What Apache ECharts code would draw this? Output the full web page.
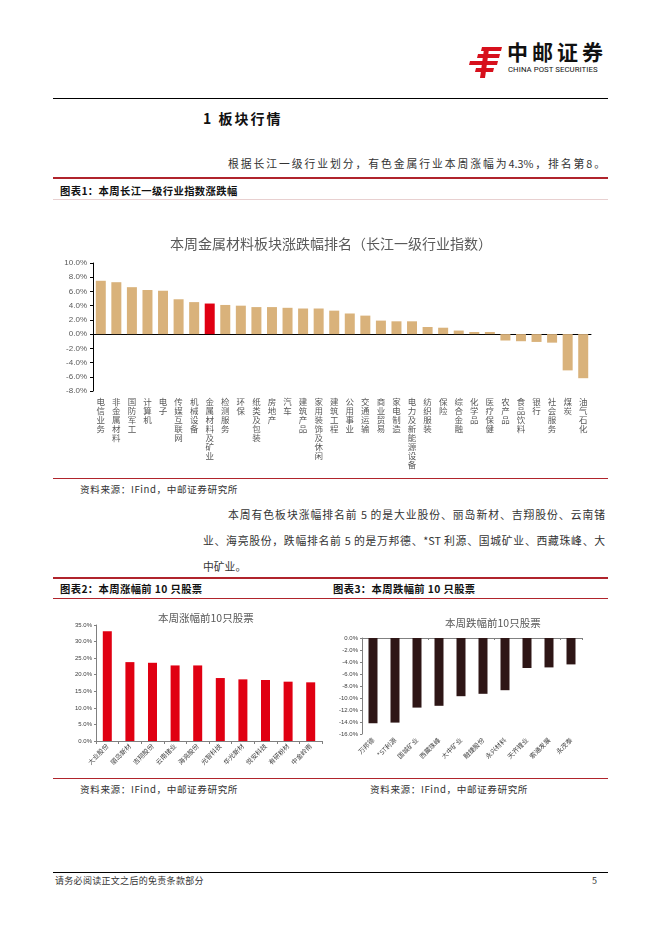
<!DOCTYPE html>
<html><head><meta charset="utf-8">
<script src="https://cdn.jsdelivr.net/npm/echarts@6/dist/echarts.min.js"></script>
<style>
html,body{margin:0;padding:0;background:#fff;}
body{width:662px;height:936px;position:relative;overflow:hidden;font-family:"Noto Sans CJK SC","Noto Sans",sans-serif;color:#222;}
.abs{position:absolute;}
.hl{position:absolute;left:53px;width:555px;}
.txt{position:absolute;font-size:10.8px;white-space:nowrap;text-align:justify;text-align-last:justify;color:#333;}
.cap{position:absolute;font-size:10.3px;font-weight:bold;color:#111;white-space:nowrap;letter-spacing:0.4px;}
.src{position:absolute;font-size:9.6px;color:#333;white-space:nowrap;letter-spacing:0.6px;}
</style></head>
<body>
<!-- header logo -->
<svg class="abs" style="left:468px;top:45px" width="36" height="34" viewBox="0 0 36 34">
  <g fill="#D7101C">
    <polygon points="14,2 34,2 33,6 13,6"/>
    <polygon points="10,9 32,9 31,13 9,13"/>
    <polygon points="2,16 30,16 29,20 1,20"/>
    <polygon points="8,23 26,23 25,27 7,27"/>
    <polygon points="16,4 21,4 17,33 12,33"/>
  </g>
</svg>
<div class="abs" style="left:507px;top:36px;font-size:21px;font-weight:bold;letter-spacing:4px;color:#111;line-height:30px;">中邮证券</div>
<div class="abs" style="left:508px;top:65px;font-size:7.8px;font-family:Roboto,Arial,sans-serif;color:#111;letter-spacing:0.05px;line-height:9px;">CHINA POST SECURITIES</div>
<div class="hl" style="top:98px;height:1px;background:#000;"></div>

<div class="abs" style="left:203px;top:108px;font-size:14px;font-weight:bold;letter-spacing:2px;color:#111;">1 板块行情</div>

<div class="txt" style="left:228px;top:155px;width:377px;">根据长江一级行业划分，有色金属行业本周涨幅为4.3%，排名第8。</div>

<div class="hl" style="top:177px;height:2px;background:#B0242C;"></div>
<div class="cap" style="left:60px;top:183px;">图表1：本周长江一级行业指数涨跌幅</div>
<div class="hl" style="top:199px;height:1px;background:#E8D0D0;"></div>

<div id="c1" class="abs" style="left:0;top:220px;width:662px;height:256px;"></div>

<div class="hl" style="top:478px;height:1px;background:#B0242C;"></div>
<div class="src" style="left:80px;top:482px;">资料来源：IFind，中邮证券研究所</div>

<div class="txt" style="left:228px;top:506px;width:377px;">本周有色板块涨幅排名前 5 的是大业股份、丽岛新材、吉翔股份、云南锗</div>
<div class="txt" style="left:203px;top:532px;width:402px;">业、海亮股份，跌幅排名前 5 的是万邦德、*ST 利源、国城矿业、西藏珠峰、大</div>
<div class="txt" style="left:203px;top:558px;text-align:left;text-align-last:left;">中矿业。</div>

<div class="hl" style="top:577px;height:2px;background:#B0242C;"></div>
<div class="cap" style="left:60px;top:581px;">图表2：本周涨幅前 10 只股票</div>
<div class="cap" style="left:333px;top:581px;">图表3：本周跌幅前 10 只股票</div>
<div class="hl" style="top:598px;height:1px;background:#B0242C;"></div>

<div id="c2" class="abs" style="left:60px;top:600px;width:280px;height:176px;"></div>
<div id="c3" class="abs" style="left:330px;top:600px;width:270px;height:176px;"></div>

<div class="hl" style="top:778px;height:1px;background:#B0242C;"></div>
<div class="src" style="left:80px;top:782px;">资料来源：IFind，中邮证券研究所</div>
<div class="src" style="left:370px;top:782px;">资料来源：IFind，中邮证券研究所</div>

<div class="hl" style="top:872px;height:1px;background:#000;"></div>
<div class="abs" style="left:55px;top:874px;font-size:9px;color:#333;letter-spacing:0.3px;">请务必阅读正文之后的免责条款部分</div>
<div class="abs" style="left:592px;top:874px;font-size:9px;color:#333;">5</div>

<script>
// ---- Chart 1 data ----
const industryCats = ['电信业务','非金属材料','国防军工','计算机','电子','传媒互联网','机械设备','金属材料及矿业','检测服务','环保','纸类及包装','房地产','汽车','建筑产品','家用装饰及休闲','建筑工程','公用事业','交通运输','商业贸易','家电制造','电力及新能源设备','纺织服装','保险','综合金融','化学品','医疗保健','农产品','食品饮料','银行','社会服务','煤炭','油气石化'];
const industryValues = [7.5,7.3,6.6,6.2,6.1,4.9,4.5,4.3,4.1,4.0,3.8,3.8,3.7,3.6,3.6,3.3,2.9,2.6,1.9,1.8,1.8,1.0,0.9,0.5,0.3,0.3,-0.9,-1.0,-1.1,-1.2,-5.1,-6.2];
const highlightCat = '金属材料及矿业';
// ---- Chart 2 data ----
const gainerNames = ['大业股份','丽岛新材','吉翔股份','云南锗业','海亮股份','光智科技','华光新材','悦安科技','有研粉材','中金岭南'];
const gainerValues = [33.1,23.8,23.6,22.8,22.8,19.0,18.6,18.4,17.9,17.7];
// ---- Chart 3 data ----
const loserNames = ['万邦德','*ST利源','国城矿业','西藏珠峰','大中矿业','融捷股份','永兴材料','天齐锂业','索通发展','永茂泰'];
const loserValues = [-14.2,-14.1,-11.6,-11.3,-9.7,-9.3,-8.7,-5.0,-4.9,-4.4];

const FONT = '"Noto Sans CJK SC","Noto Sans",sans-serif';
const pct = v => v.toFixed(1) + '%';

// Chart 1
const c1 = echarts.init(document.getElementById('c1'), null, {renderer:'canvas'});
c1.setOption({
  animation:false,
  title:{text:'本周金属材料板块涨跌幅排名（长江一级行业指数）', left:'center', top:12,
    textStyle:{fontSize:14, fontWeight:'normal', color:'#595959', fontFamily:FONT}},
  grid:{left:93, top:43, width:498, height:128},
  xAxis:[
    {type:'category', data:industryCats, position:'bottom',
     axisLine:{show:false, onZero:false}, axisTick:{show:false},
     axisLabel:{interval:0, margin:6, fontSize:8.5, lineHeight:9, color:'#595959', fontFamily:FONT,
       verticalAlign:'top', formatter:v => v.split('').join('\n')}},
    {type:'category', data:industryCats, position:'bottom',
     axisLine:{show:true, onZero:true, lineStyle:{color:'#000', width:1}}, axisTick:{show:false}, axisLabel:{show:false}}
  ],
  yAxis:{type:'value', min:-8, max:10, interval:2,
    axisLine:{show:true, lineStyle:{color:'#000'}}, axisTick:{show:true, length:3, lineStyle:{color:'#000'}},
    splitLine:{show:false},
    axisLabel:{fontSize:8, color:'#595959', margin:6, formatter:pct, fontFamily:'Liberation Sans, Arial'}},
  series:[{type:'bar', xAxisIndex:0, data:industryValues, barWidth:10,
    itemStyle:{color:p => industryCats[p.dataIndex] === highlightCat ? '#E00012' : '#D9B27B'}}]
});

// Chart 2
const c2 = echarts.init(document.getElementById('c2'));
c2.setOption({
  animation:false,
  title:{text:'本周涨幅前10只股票', left:93, top:8,
    textStyle:{fontSize:10.5, fontWeight:'normal', color:'#595959', fontFamily:FONT}},
  grid:{left:36, top:25, width:226, height:116},
  xAxis:{type:'category', data:gainerNames,
    axisLine:{lineStyle:{color:'#808080'}}, axisTick:{show:true, length:3, lineStyle:{color:'#808080'}},
    axisLabel:{interval:0, rotate:45, fontSize:6.5, color:'#404040', margin:4, fontFamily:FONT}},
  yAxis:{type:'value', min:0, max:35, interval:5,
    axisLine:{show:true, lineStyle:{color:'#808080'}}, axisTick:{show:true, length:2, lineStyle:{color:'#808080'}},
    splitLine:{show:false},
    axisLabel:{fontSize:6, color:'#404040', margin:4, formatter:pct, fontFamily:'Liberation Sans, Arial'}},
  series:[{type:'bar', data:gainerValues, barWidth:9, itemStyle:{color:'#E00012'}}]
});

// Chart 3
const c3 = echarts.init(document.getElementById('c3'));
c3.setOption({
  animation:false,
  title:{text:'本周跌幅前10只股票', top:13, left:110,
    textStyle:{fontSize:10.5, fontWeight:'normal', color:'#595959', fontFamily:FONT}},
  grid:{left:32, top:38, width:220, height:96},
  xAxis:[
    {type:'category', data:loserNames, position:'bottom',
     axisLine:{show:false, onZero:false}, axisTick:{show:false},
     axisLabel:{interval:0, rotate:45, fontSize:6.5, color:'#404040', margin:5, fontFamily:FONT}},
    {type:'category', data:loserNames, position:'bottom',
     axisLine:{show:true, onZero:true, lineStyle:{color:'#808080'}},
     axisTick:{show:true, length:2, lineStyle:{color:'#808080'}}, axisLabel:{show:false}}
  ],
  yAxis:{type:'value', min:-16, max:0, interval:2,
    axisLine:{show:true, lineStyle:{color:'#808080'}}, axisTick:{show:true, length:2, lineStyle:{color:'#808080'}},
    splitLine:{show:false},
    axisLabel:{fontSize:6, color:'#404040', margin:4, formatter:pct, fontFamily:'Liberation Sans, Arial'}},
  series:[{type:'bar', xAxisIndex:0, data:loserValues, barWidth:9, itemStyle:{color:'#2E1616'}}]
});
</script>
</body></html>
